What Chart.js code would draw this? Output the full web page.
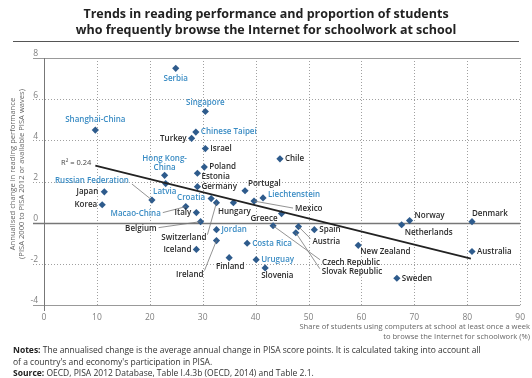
<!DOCTYPE html>
<html>
<head>
<meta charset="utf-8">
<script src="https://cdn.jsdelivr.net/npm/chart.js@4.4.0/dist/chart.umd.min.js"></script>
<style>
  body { margin: 0; background: #fff; font-family: "Open Sans", sans-serif; }
  #wrap { position: relative; width: 532px; height: 378px; overflow: hidden; }
  canvas { position: absolute; left: 0; top: 0; }
  #title { position: absolute; left: 0; top: 6px; width: 532px; text-align: center; font-weight: 700; font-size: 12.5px; line-height: 16px; color: #222; }
  #rule { position: absolute; left: 13px; top: 41px; width: 506px; border-top: 1px solid #555; }
  #notes { position: absolute; left: 13px; top: 344px; width: 525px; font-size: 8.5px; line-height: 11.5px; color: #333; white-space: nowrap; }
  #notes b { color: #222; }
</style>
</head>
<body>
<div id="wrap">
  <canvas id="chart" width="532" height="378"></canvas>
  <div id="title">Trends in reading performance and proportion of students<br>who frequently browse the Internet for schoolwork at school</div>
  <div id="rule"></div>
  <div id="notes"><b>Notes:</b> The annualised change is the average annual change in PISA score points. It is calculated taking into account all<br>of a country's and economy's participation in PISA.<br><b>Source:</b> OECD, PISA 2012 Database, Table I.4.3b (OECD, 2014) and Table 2.1.</div>
</div>
<script>
// countries / economies
var countries = ['Serbia', 'Singapore', 'Shanghai-China', 'Chinese Taipei', 'Turkey', 'Israel', 'Chile',
    'Poland', 'Estonia', 'Hong Kong-China', 'Latvia', 'Germany', 'Portugal', 'Liechtenstein', 'Mexico',
    'Hungary', 'Croatia', 'Switzerland', 'Russian Federation', 'Japan', 'Korea', 'Macao-China', 'Italy',
    'Greece', 'Belgium', 'Jordan', 'Ireland', 'Iceland', 'Costa Rica', 'Finland', 'Uruguay', 'Slovenia',
    'Czech Republic', 'Austria', 'Slovak Republic', 'Spain', 'New Zealand', 'Norway', 'Netherlands',
    'Denmark', 'Australia', 'Sweden'];
// share of students browsing the Internet for schoolwork at school (%)
var shareInternet = [24.9, 30.5, 9.7, 28.7, 27.9, 30.5, 44.6,
    30.3, 29.0, 22.8, 23.0, 29.0, 38.0, 41.4, 39.7,
    35.8, 31.6, 32.6, 20.4, 11.4, 11.0, 26.8, 28.8,
    44.9, 29.6, 32.6, 32.6, 28.8, 38.4, 35.0, 40.1, 41.8,
    43.3, 48.1, 47.6, 51.1, 59.4, 69.1, 67.6,
    80.9, 80.9, 66.7];
// annualised change in reading performance
var readingChange = [7.5, 5.4, 4.5, 4.4, 4.1, 3.6, 3.1,
    2.7, 2.4, 2.3, 1.9, 1.75, 1.55, 1.2, 1.05,
    0.97, 1.17, 0.97, 1.1, 1.5, 0.87, 0.78, 0.49,
    0.44, 0.05, -0.34, -0.87, -1.3, -1.0, -1.7, -1.8, -2.2,
    -0.15, -0.19, -0.49, -0.34, -1.1, 0.1, -0.1,
    0.05, -1.4, -2.7];
// partner countries and economies (labels in blue)
var partners = ['Serbia', 'Singapore', 'Shanghai-China', 'Chinese Taipei', 'Hong Kong-China', 'Latvia',
    'Liechtenstein', 'Croatia', 'Russian Federation', 'Macao-China', 'Jordan', 'Costa Rica', 'Uruguay'];
// fitted line, end points
var trendX = [9.7, 80.7];
var trendY = [2.77, -1.75];
var xTicks = [0, 10, 20, 30, 40, 50, 60, 70, 80, 90];
var yTicks = [-4, -2, 0, 2, 4, 6, 8];

// label placement: dx, dy, align, optional leader end (relative to point, px)
var labelPos = {
    'Serbia': [0, 10, 'center'],
    'Singapore': [0, -9, 'center'],
    'Shanghai-China': [0, -10, 'center'],
    'Chinese Taipei': [5, 0, 'left'],
    'Turkey': [-5, 0, 'right'],
    'Israel': [5, 0, 'left'],
    'Chile': [5, 0, 'left'],
    'Poland': [5, 0, 'left'],
    'Estonia': [4, 3, 'left'],
    'Hong Kong-China': [0, -17, 'center'],
    'Latvia': [-1, 8, 'center'],
    'Germany': [4, 0, 'left'],
    'Portugal': [3, -7, 'left'],
    'Liechtenstein': [5, -3, 'left'],
    'Mexico': [41, 8, 'left', [39, 7]],
    'Hungary': [1, 9, 'center'],
    'Croatia': [-6, -1, 'right'],
    'Switzerland': [-10, 35, 'right', [-9, 32]],
    'Russian Federation': [-23, -19, 'right', [-20, -16]],
    'Japan': [-6, 0, 'right'],
    'Korea': [-5, 0, 'right'],
    'Macao-China': [-25, 7, 'right', [-23, 6]],
    'Italy': [-5, 0, 'right'],
    'Greece': [-4, 5, 'right'],
    'Belgium': [-44, 7, 'right', [-42, 6]],
    'Jordan': [5, 0, 'left'],
    'Ireland': [-13, 34, 'right', [-12, 30]],
    'Iceland': [-5, 0, 'right'],
    'Costa Rica': [5, 0, 'left'],
    'Finland': [1, 9, 'center'],
    'Uruguay': [5, 0, 'left'],
    'Slovenia': [-4, 8, 'left'],
    'Czech Republic': [49, 37, 'left', [47, 34]],
    'Austria': [14, 15, 'left', [12, 12]],
    'Slovak Republic': [26, 39, 'left', [24, 36]],
    'Spain': [5, 0, 'left'],
    'New Zealand': [2, 6, 'left'],
    'Norway': [5, -5, 'left'],
    'Netherlands': [3, 8, 'left'],
    'Denmark': [0, -8, 'left'],
    'Australia': [5, 0, 'left'],
    'Sweden': [5, 0, 'left']
};

var dotColor = '#2e5b8c';
var blueText = '#3a8cc4';
var darkText = '#2b2b2b';

// grid lines under the marks, labels and axis titles over them
var gridPlugin = {
    id: 'gridPlugin',
    beforeDatasetsDraw(chart) {
        const ctx = chart.ctx;
        const xs = chart.scales.x, ys = chart.scales.y;
        const top = ys.getPixelForValue(8), bottom = ys.getPixelForValue(-4);
        const left = xs.getPixelForValue(0), right = xs.getPixelForValue(90);
        ctx.save();
        ctx.lineWidth = 1;
        ctx.strokeStyle = '#a0a0a0';
        ctx.setLineDash([1, 2]);
        xTicks.forEach(v => {
            if (v == 0) return;
            const px = Math.round(xs.getPixelForValue(v)) + 0.5;
            ctx.beginPath(); ctx.moveTo(px, top); ctx.lineTo(px, bottom); ctx.stroke();
        });
        yTicks.forEach(v => {
            if (v == 8 || v == 0 || v == -4) return;
            const py = Math.round(ys.getPixelForValue(v)) + 0.5;
            ctx.beginPath(); ctx.moveTo(left - 11, py); ctx.lineTo(right, py); ctx.stroke();
        });
        ctx.setLineDash([]);
        ctx.strokeStyle = '#999';
        [8, -4].forEach(v => {
            const py = Math.round(ys.getPixelForValue(v)) + 0.5;
            ctx.beginPath(); ctx.moveTo(left - 11, py); ctx.lineTo(right, py); ctx.stroke();
        });
        ctx.strokeStyle = '#777';
        ctx.lineWidth = 1.3;
        const py0 = Math.round(ys.getPixelForValue(0)) + 0.5;
        ctx.beginPath(); ctx.moveTo(left - 11, py0); ctx.lineTo(right, py0); ctx.stroke();
        ctx.lineWidth = 1;
        const pxl = Math.round(left) + 0.5;
        ctx.beginPath(); ctx.moveTo(pxl, top); ctx.lineTo(pxl, bottom + 6); ctx.stroke();
        ctx.restore();
    },
    afterDatasetsDraw(chart) {
        const ctx = chart.ctx;
        const xs = chart.scales.x, ys = chart.scales.y;
        ctx.save();
        ctx.font = '600 8px "Open Sans"';
        ctx.textBaseline = 'middle';
        countries.forEach((name, i) => {
            const px = xs.getPixelForValue(shareInternet[i]);
            const py = ys.getPixelForValue(readingChange[i]);
            const pos = labelPos[name];
            if (pos[3]) {
                ctx.strokeStyle = '#777';
                ctx.lineWidth = 0.8;
                ctx.beginPath();
                ctx.moveTo(px, py);
                ctx.lineTo(px + pos[3][0], py + pos[3][1]);
                ctx.stroke();
            }
            ctx.fillStyle = partners.includes(name) ? blueText : darkText;
            ctx.textAlign = pos[2];
            if (name == 'Hong Kong-China') {
                ctx.fillText('Hong Kong-', px + pos[0], py + pos[1]);
                ctx.fillText('China', px + pos[0], py + pos[1] + 9);
            } else {
                ctx.fillText(name, px + pos[0], py + pos[1]);
            }
        });
        // R squared next to the fitted line
        ctx.fillStyle = '#444';
        ctx.font = '7.5px "Open Sans"';
        ctx.textAlign = 'right';
        ctx.fillText('R² = 0.24', xs.getPixelForValue(trendX[0]) - 4, ys.getPixelForValue(trendY[0]) - 3);

        // axis titles
        ctx.fillStyle = '#666';
        ctx.font = '7.6px "Open Sans"';
        ctx.textAlign = 'right';
        ctx.fillText('Share of students using computers at school at least once a week', 530, 327);
        ctx.fillText('to browse the Internet for schoolwork (%)', 530, 337);
        ctx.translate(0, 174);
        ctx.rotate(-Math.PI / 2);
        ctx.textAlign = 'center';
        ctx.fillText('Annualised change in reading performance', 0, 13);
        ctx.fillText('(PISA 2000 to PISA 2012 or available PISA waves)', 0, 22);
        ctx.restore();
    }
};

document.addEventListener("DOMContentLoaded", function() {
    var points = countries.map((c, i) => ({x: shareInternet[i], y: readingChange[i]}));
    var trend = trendX.map((x, i) => ({x: x, y: trendY[i]}));
    var ctx = document.getElementById('chart').getContext('2d');
    new Chart(ctx, {
        type: 'scatter',
        data: {
            datasets: [{
                type: 'line',
                data: trend,
                borderColor: '#222',
                borderWidth: 1.8,
                pointRadius: 0,
                fill: false
            }, {
                data: points,
                pointStyle: 'rectRot',
                pointRadius: 3.6,
                backgroundColor: dotColor,
                borderColor: dotColor,
                borderWidth: 0
            }]
        },
        options: {
            responsive: false,
            animation: false,
            layout: {padding: {top: 58, right: 7, left: 0, bottom: 0}},
            plugins: {legend: {display: false}, tooltip: {enabled: false}},
            scales: {
                x: {
                    type: 'linear', min: 0, max: 90,
                    afterBuildTicks: scale => { scale.ticks = xTicks.map(v => ({value: v})); },
                    afterFit: scale => { scale.height = 73; },
                    grid: {display: false, drawTicks: false},
                    border: {display: false},
                    ticks: {color: '#808080', font: {family: 'Open Sans', size: 8.5}, padding: 7, maxRotation: 0}
                },
                y: {
                    type: 'linear', min: -4, max: 8,
                    afterBuildTicks: scale => { scale.ticks = yTicks.map(v => ({value: v})); },
                    afterFit: scale => { scale.width = 44; },
                    grid: {display: false, drawTicks: false},
                    border: {display: false},
                    ticks: {color: '#808080', font: {family: 'Open Sans', size: 8.5}, padding: 6, labelOffset: -4}
                }
            }
        },
        plugins: [gridPlugin]
    });
});
</script>
</body>
</html>
